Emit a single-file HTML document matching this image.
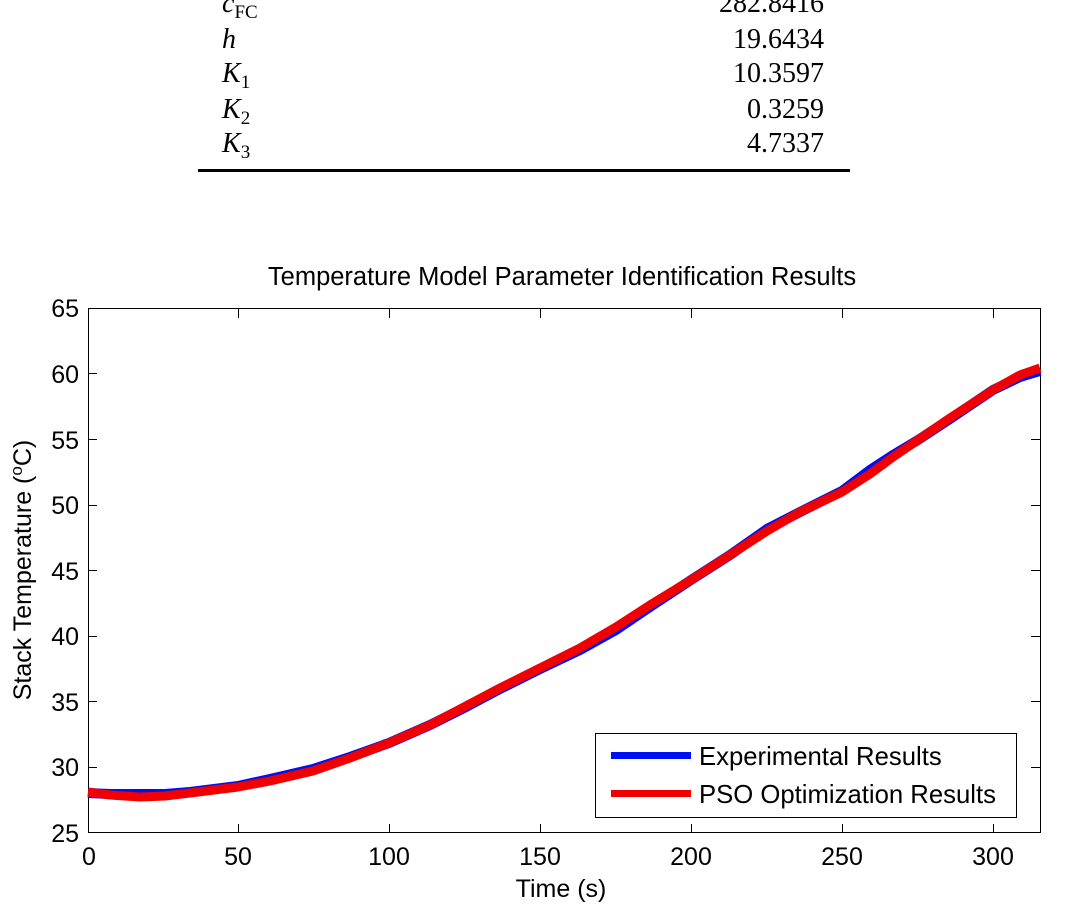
<!DOCTYPE html>
<html><head><meta charset="utf-8"><style>
body{margin:0;background:#fff;width:1068px;height:912px;overflow:hidden}
text{font-family:"Liberation Sans",Arial,sans-serif}
text.ser{font-family:"Liberation Serif","DejaVu Serif",serif;font-size:28px}
</style></head><body>
<svg width="1068" height="912" viewBox="0 0 1068 912" xmlns="http://www.w3.org/2000/svg">
<g fill="#000">
<text class="ser" x="222" y="12" font-style="italic">c<tspan font-size="19" dy="6" font-style="normal">FC</tspan></text>
<text class="ser" x="824" y="12" text-anchor="end">282.8416</text>
<text class="ser" x="222" y="48" font-style="italic">h</text>
<text class="ser" x="824" y="48" text-anchor="end">19.6434</text>
<text class="ser" x="222" y="82" font-style="italic">K<tspan font-size="19" dy="6" font-style="normal">1</tspan></text>
<text class="ser" x="824" y="82" text-anchor="end">10.3597</text>
<text class="ser" x="222" y="118" font-style="italic">K<tspan font-size="19" dy="6" font-style="normal">2</tspan></text>
<text class="ser" x="824" y="118" text-anchor="end">0.3259</text>
<text class="ser" x="222" y="152" font-style="italic">K<tspan font-size="19" dy="6" font-style="normal">3</tspan></text>
<text class="ser" x="824" y="152" text-anchor="end">4.7337</text>
</g>
<rect x="198" y="169" width="652" height="3" fill="#000"/>
<text x="562" y="285" font-size="25.5" text-anchor="middle">Temperature Model Parameter Identification Results</text>
<rect x="88.5" y="308.5" width="952" height="524" fill="none" stroke="#000" stroke-width="1"/>
<g stroke="#000" stroke-width="1">
<path d="M238.5 833v-9M389.5 833v-9M540.5 833v-9M691.5 833v-9M842.5 833v-9M993.5 833v-9M238.5 309v9M389.5 309v9M540.5 309v9M691.5 309v9M842.5 309v9M993.5 309v9"/>
<path d="M88 767.5h9M88 701.5h9M88 636.5h9M88 570.5h9M88 505.5h9M88 439.5h9M88 373.5h9M1040 767.5h-9M1040 701.5h-9M1040 636.5h-9M1040 570.5h-9M1040 505.5h-9M1040 439.5h-9M1040 373.5h-9"/>
</g>
<g font-size="25" text-anchor="end">
<text x="79" y="842">25</text><text x="79" y="776">30</text><text x="79" y="711">35</text><text x="79" y="645">40</text><text x="79" y="580">45</text><text x="79" y="514">50</text><text x="79" y="449">55</text><text x="79" y="383">60</text><text x="79" y="317">65</text>
</g>
<g font-size="25" text-anchor="middle">
<text x="89" y="865">0</text><text x="238" y="865">50</text><text x="389" y="865">100</text><text x="540" y="865">150</text><text x="691" y="865">200</text><text x="842" y="865">250</text><text x="993" y="865">300</text>
<text x="561" y="897">Time (s)</text>
</g>
<text transform="translate(31,570) rotate(-90)" font-size="25" text-anchor="middle">Stack Temperature (<tspan font-size="17" dy="-9">o</tspan><tspan dy="9">C)</tspan></text>
<path d="M88 793 L110 794 L140 794 L165 794 L190 792 L238 786 L270 779 L313 769 L350 757 L389 743 L430 725 L464 708 L500 689 L540 669 L580 650 L616 630 L650 607 L691 580 L730 555 L767 529 L800 512 L842 491 L870 470 L893 455 L918 440 L950 419 L993 390 L1020 377 L1040 371" fill="none" stroke="#0010f0" stroke-width="10" stroke-linejoin="round"/>
<path d="M88 792 L110 795 L140 797 L165 796 L190 793 L238 787 L270 781 L313 771 L350 758 L389 743 L430 725 L464 707 L500 688 L540 668 L580 648 L616 627 L650 605 L691 580 L730 555 L767 531 L800 512 L842 492 L870 474 L893 457 L918 440 L950 418 L993 390 L1020 375 L1040 368" fill="none" stroke="#f00000" stroke-width="9" stroke-linejoin="round"/>
<rect x="595.5" y="733.5" width="421" height="84" fill="#fff" stroke="#000"/>
<rect x="611" y="752" width="80" height="7" fill="#0010f0"/>
<rect x="611" y="790" width="80" height="7" fill="#f00000"/>
<g font-size="25.7"><text x="699" y="765">Experimental Results</text><text x="699" y="803">PSO Optimization Results</text></g>
</svg>
</body></html>
